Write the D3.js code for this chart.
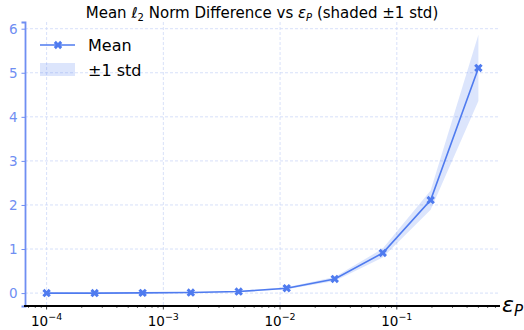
<!DOCTYPE html>
<html>
<head>
<meta charset="utf-8">
<style>
  body { margin: 0; background: #fff; }
  svg text { font-family: "DejaVu Sans", sans-serif; }
</style>
</head>
<body>
<script src="https://cdn.jsdelivr.net/npm/d3@7"></script>
<script>
// data
var epsValues = [1e-4, 2.58e-4, 6.65e-4, 1.72e-3, 4.42e-3, 1.14e-2, 2.94e-2, 7.58e-2, 0.195, 0.5];
var meanValues = [0.0, 0.0, 0.005, 0.012, 0.035, 0.11, 0.32, 0.91, 2.11, 5.11];
var stdValues = [0.0, 0.002, 0.004, 0.006, 0.012, 0.025, 0.045, 0.1, 0.22, 0.75];
var yTicks = [0, 1, 2, 3, 4, 5, 6];
var xTicks = [1e-4, 1e-3, 1e-2, 1e-1];
var xTickExp = ["\u22124", "\u22123", "\u22122", "\u22121"];

var W = 524, H = 330;
var lineColor = "#4f7bef", axisColor = "#6f8ef2", gridColor = "#cdd8f7";

var svg = d3.select("body").append("svg").attr("width", W).attr("height", H);

var x = d3.scaleLog().domain([Math.pow(10, -4.185), Math.pow(10, -0.116)]).range([25, 500]);
var y = d3.scaleLinear().domain([-0.293, 6.152]).range([306, 22]);

// grid
svg.append("g").selectAll("line").data(xTicks).enter().append("line")
    .attr("x1", d => x(d)).attr("x2", d => x(d)).attr("y1", 22).attr("y2", 306)
    .attr("stroke", gridColor).attr("stroke-width", 0.8).attr("stroke-dasharray", "3,2");
svg.append("g").selectAll("line").data(yTicks).enter().append("line")
    .attr("x1", 25).attr("x2", 500).attr("y1", d => y(d)).attr("y2", d => y(d))
    .attr("stroke", gridColor).attr("stroke-width", 0.8).attr("stroke-dasharray", "3,2");

// band
var area = d3.area()
    .x((d, i) => x(epsValues[i]))
    .y0((d, i) => y(meanValues[i] - stdValues[i]))
    .y1((d, i) => y(meanValues[i] + stdValues[i]));
svg.append("path").datum(meanValues).attr("d", area)
    .attr("fill", lineColor).attr("fill-opacity", 0.2);

// mean line
var line = d3.line().x((d, i) => x(epsValues[i])).y(d => y(d));
svg.append("path").datum(meanValues).attr("d", line)
    .attr("fill", "none").attr("stroke", lineColor).attr("stroke-width", 1.6);

// filled X marker
var symbolBigX = {
  draw: function(ctx, size) {
    var r = Math.sqrt(size) / 2, t = r * 0.5;
    ctx.moveTo(-r, -r + t); ctx.lineTo(-r + t, -r); ctx.lineTo(0, -t);
    ctx.lineTo(r - t, -r); ctx.lineTo(r, -r + t); ctx.lineTo(t, 0);
    ctx.lineTo(r, r - t); ctx.lineTo(r - t, r); ctx.lineTo(0, t);
    ctx.lineTo(-r + t, r); ctx.lineTo(-r, r - t); ctx.lineTo(-t, 0);
    ctx.closePath();
  }
};
var marker = d3.symbol().type(symbolBigX).size(72);
svg.append("g").selectAll("path").data(meanValues).enter().append("path")
    .attr("d", marker)
    .attr("transform", (d, i) => "translate(" + x(epsValues[i]) + "," + y(d) + ")")
    .attr("fill", lineColor);

// y axis
var yAxis = svg.append("g").attr("transform", "translate(25,0)")
    .call(d3.axisLeft(y).tickValues(yTicks).tickSize(3.5).tickPadding(4).tickFormat(d3.format("d")));
yAxis.select(".domain").attr("stroke", axisColor).attr("stroke-width", 1.8);
yAxis.selectAll(".tick line").attr("stroke", axisColor);
yAxis.selectAll("text").attr("fill", axisColor).attr("font-size", 13.5).style("font-family", "DejaVu Sans");

// x axis
var minorTicks = [];
for (var e = -5; e < 0; e++) for (var m = 2; m <= 9; m++) {
  var v = m * Math.pow(10, e);
  if (v > x.domain()[0] && v < x.domain()[1]) minorTicks.push(v);
}
var xg = svg.append("g").attr("transform", "translate(0,306)");
xg.append("line").attr("x1", 24).attr("x2", 500).attr("stroke", "#000").attr("stroke-width", 1.8);
xg.selectAll(".minor").data(minorTicks).enter().append("line")
    .attr("x1", d => x(d)).attr("x2", d => x(d)).attr("y1", 0).attr("y2", 2)
    .attr("stroke", "#000").attr("stroke-width", 0.6);
xg.selectAll(".major").data(xTicks).enter().append("line")
    .attr("x1", d => x(d)).attr("x2", d => x(d)).attr("y1", 0).attr("y2", 3.5)
    .attr("stroke", "#000").attr("stroke-width", 0.8);
var xt = xg.selectAll(".lbl").data(xTicks).enter().append("text")
    .attr("x", d => x(d)).attr("y", 20).attr("text-anchor", "middle")
    .attr("font-size", 13.5).attr("fill", "#000");
xt.append("tspan").text("10");
xt.append("tspan").attr("dy", -6).attr("font-size", 9.5).text((d, i) => xTickExp[i]);

// x label
var xl = svg.append("text").attr("x", 502).attr("y", 312).attr("font-size", 22)
    .attr("font-style", "italic").attr("fill", "#000");
xl.append("tspan").text("\u03b5");
xl.append("tspan").attr("font-size", 15).attr("dy", 4).text("P");

// title
var title = svg.append("text").attr("x", 262).attr("y", 18).attr("text-anchor", "middle")
    .attr("font-size", 15).attr("fill", "#000");
title.append("tspan").text("Mean ");
title.append("tspan").attr("font-style", "italic").text("\u2113");
title.append("tspan").attr("font-size", 10).attr("dy", 3).text("2");
title.append("tspan").attr("dy", -3).text(" Norm Difference vs ");
title.append("tspan").attr("font-style", "italic").text("\u03b5");
title.append("tspan").attr("font-style", "italic").attr("font-size", 10).attr("dy", 3).text("P");
title.append("tspan").attr("dy", -3).text(" (shaded \u00b11 std)");

// legend
var lg = svg.append("g");
lg.append("line").attr("x1", 40).attr("x2", 75).attr("y1", 45).attr("y2", 45)
    .attr("stroke", lineColor).attr("stroke-width", 1.6);
lg.append("path").attr("d", marker).attr("transform", "translate(58,45)").attr("fill", lineColor);
lg.append("text").attr("x", 88).attr("y", 51).attr("font-size", 16).text("Mean");
lg.append("rect").attr("x", 40).attr("y", 63).attr("width", 35).attr("height", 13)
    .attr("fill", lineColor).attr("fill-opacity", 0.2);
lg.append("text").attr("x", 88).attr("y", 76).attr("font-size", 16).text("\u00b11 std");
</script>
</body>
</html>
